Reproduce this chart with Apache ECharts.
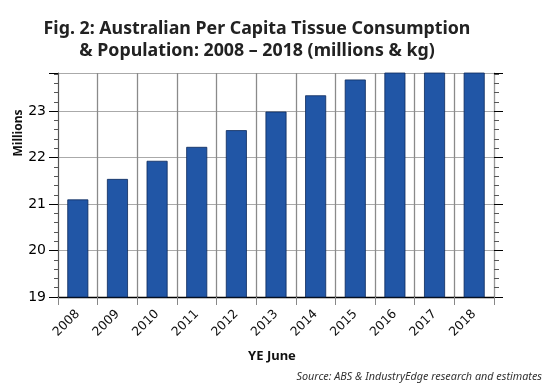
<!DOCTYPE html>
<html><head><meta charset="utf-8">
<script src="https://cdn.jsdelivr.net/npm/echarts@6/dist/echarts.min.js"></script>
<style>html,body{margin:0;padding:0;background:#fff}#c{width:550px;height:389px}</style>
</head><body><div id="c"></div>
<script>
const categories = ['2008','2009','2010','2011','2012','2013','2014','2015','2016','2017','2018'];
const population = [21.10, 21.54, 21.93, 22.23, 22.59, 22.99, 23.34, 23.68, 24.19, 24.60, 24.99];
const yTicks = [19, 20, 21, 22, 23];
const titleText = 'Fig. 2: Australian Per Capita Tissue Consumption\n& Population: 2008 – 2018 (millions & kg)';
const yName = 'Millions';
const xName = 'YE June';
const sourceText = 'Source: ABS & IndustryEdge research and estimates';

const chart = echarts.init(document.getElementById('c'), null, {renderer:'canvas'});
const yMin = yTicks[0], yMax = 23.82;
chart.setOption({
  animation:false,
  title:{text:titleText,left:252,textAlign:'center',top:13,
    textStyle:{fontFamily:'Noto Sans',fontWeight:'bold',fontSize:17.8,lineHeight:22,color:'#222'}},
  graphic:[
    {type:'text',right:8,top:371,style:{text:sourceText,fontFamily:'Noto Sans',fontStyle:'italic',fontSize:10.8,fill:'#333'}},
    {type:'text',x:19,y:133,rotation:Math.PI/2,style:{text:yName,fontFamily:'Noto Sans',fontWeight:'bold',fontSize:12,fill:'#111',align:'center',verticalAlign:'middle'}},
    {type:'text',x:272,y:356,style:{text:xName,fontFamily:'Noto Sans',fontWeight:'bold',fontSize:13,fill:'#111',align:'center',verticalAlign:'middle'}}
  ],
  grid:{left:58,right:56,top:73,bottom:92},
  xAxis:{type:'category',data:categories,boundaryGap:true,
    axisLine:{lineStyle:{color:'#000',width:1.3}},
    axisTick:{show:true,length:8,interval:0,lineStyle:{color:'#888'}},
    axisLabel:{rotate:45,interval:0,fontFamily:'DejaVu Sans',fontSize:12.5,color:'#111',margin:15,padding:[0,0,0,0],
      align:'right',verticalAlign:'middle',rich:{}},
    splitLine:{show:true,interval:0,lineStyle:{color:'#8a8a8a',width:1.3}}},
  yAxis:[{type:'value',min:yMin,max:yMax,interval:1,
    axisLine:{show:true,lineStyle:{color:'#555'}},
    axisTick:{show:true,length:9,lineStyle:{color:'#000'}},
    minorTick:{show:true,splitNumber:5,length:4,lineStyle:{color:'#555'}},
    axisLabel:{fontFamily:'DejaVu Sans',fontSize:14,color:'#000',margin:12,showMaxLabel:false},
    splitLine:{show:true,lineStyle:{color:'#aaa',width:1.2}}},
   {type:'value',min:yMin,max:yMax,interval:1,position:'right',
    axisLine:{show:true,lineStyle:{color:'#999'}},
    axisTick:{show:true,length:9,lineStyle:{color:'#000'}},
    minorTick:{show:true,splitNumber:5,length:5,lineStyle:{color:'#555'}},
    axisLabel:{show:false},splitLine:{show:false}}],
  series:[{type:'bar',data:population,barWidth:'53%',clip:true,
    itemStyle:{color:'#2156a6',borderColor:'#0d2a5c',borderWidth:0.8}}]
});
</script></body></html>
